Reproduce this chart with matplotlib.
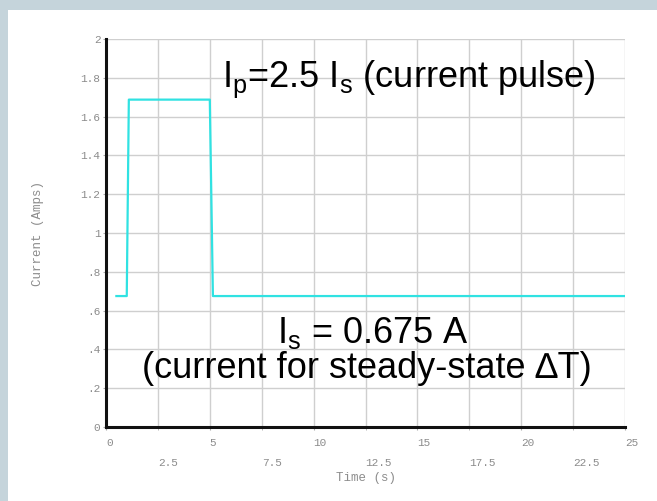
import matplotlib
matplotlib.use("Agg")
import matplotlib.pyplot as plt
from matplotlib.patches import Rectangle

# pulse waveform (time in s, current in A)
time = [0.5, 1.0, 1.1, 5.0, 5.15, 25.0]
current = [0.675, 0.675, 1.6875, 1.6875, 0.675, 0.675]

x_major = [0, 5, 10, 15, 20, 25]
x_minor = [2.5, 7.5, 12.5, 17.5, 22.5]
y_ticks = [0, 0.2, 0.4, 0.6, 0.8, 1.0, 1.2, 1.4, 1.6, 1.8, 2.0]
y_labels = ["0", ".2", ".4", ".6", ".8", "1", "1.2", "1.4", "1.6", "1.8", "2"]

plt.rcParams["mathtext.fontset"] = "custom"
plt.rcParams["mathtext.rm"] = "Liberation Sans"
plt.rcParams["mathtext.it"] = "Liberation Sans"

fig = plt.figure(figsize=(6.57, 5.01), dpi=100)
fig.patch.set_facecolor("#c5d4db")
fig.add_artist(Rectangle((8 / 657, 0), 1, 491 / 501, transform=fig.transFigure,
                         facecolor="white", edgecolor="none", zorder=0))

ax = fig.add_axes([106 / 657, 74 / 501, 519 / 657, 388 / 501])
ax.set_facecolor("white")
ax.plot(time, current, color="#30e2e2", lw=1.6, zorder=3)

ax.set_xlim(0, 25)
ax.set_ylim(0, 2)
ax.set_xticks(x_major)
ax.set_xticklabels([str(v) for v in x_major])
ax.set_xticks(x_minor, minor=True)
ax.set_xticklabels([str(v) for v in x_minor], minor=True)
ax.set_yticks(y_ticks)
ax.set_yticklabels(y_labels)

mono = "Liberation Mono"
grey = "#8c8c8c"
for lab in ax.get_xticklabels(which="both"):
    lab.set_horizontalalignment("left")
for lab in ax.get_xticklabels(which="both") + ax.get_yticklabels():
    lab.set_fontfamily(mono)
    lab.set_fontsize(8)
    lab.set_color(grey)
ax.tick_params(axis="x", which="major", length=2, pad=6, color="#aaaaaa")
ax.tick_params(axis="x", which="minor", length=2, pad=20, color="#aaaaaa")
ax.tick_params(axis="y", length=2, pad=2, color="#aaaaaa")

ax.grid(True, which="both", color="#cfcfcf", lw=1.0)
ax.set_axisbelow(True)
for side in ("top", "right"):
    ax.spines[side].set_visible(False)
for side in ("left", "bottom"):
    ax.spines[side].set_linewidth(2.2)
    ax.spines[side].set_color("#111111")
    ax.spines[side].set_zorder(4)

ax.set_xlabel("Time (s)", family=mono, fontsize=9, color=grey, labelpad=3)
ax.set_ylabel("Current (Amps)", family=mono, fontsize=9, color=grey, labelpad=26)

big = dict(family="Liberation Sans", fontsize=26, color="black", va="baseline", zorder=5)
ax.text(5.59, 1.753, r"I$_\mathrm{p}$=2.5 I$_\mathrm{s}$ (current pulse)", **big)
ax.text(8.24, 0.433, r"I$_\mathrm{s}$ = 0.675 A", **big)
ax.text(1.73, 0.253, "(current for steady-state \u2206T)", **big)

fig.savefig("out.png", dpi=100, facecolor=fig.get_facecolor())
